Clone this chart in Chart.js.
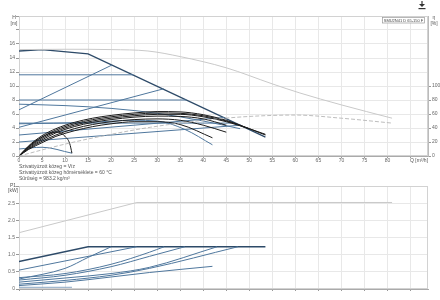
<!DOCTYPE html>
<html><head><meta charset="utf-8">
<script src="https://cdn.jsdelivr.net/npm/chart.js@4/dist/chart.umd.min.js"></script>
<style>
html,body{margin:0;padding:0;background:#fff;width:440px;height:300px;overflow:hidden}
#c1{position:absolute;left:0;top:0}
#c2{position:absolute;left:0;top:182px}
</style></head><body>
<canvas id="c1" width="440" height="182"></canvas>
<canvas id="c2" width="440" height="118"></canvas>
<script>
// ---------- Data ----------
const qTicks = [0,5,10,15,20,25,30,35,40,45,50,55,60,65,70,75,80];
const hTicks = [0,2,4,6,8,10,12,14,16];
const etaTicks = [0,20,40,60,80,100];
const pTicks = ['0','0.5','1.0','1.5','2.0','2.5'];

// Top chart: head curves H [m] vs Q [m3/h]
const Q_envelope = [0,10,20,28,35,45,55,61,70,81];
const H_envelope = [15.2,15.25,15.2,15.0,14.2,12.6,10.3,9.0,7.3,5.4];
const Q_eta = [0,10,20,28.5,40,50,60,70,81];
const ETA = [0,17,31,41,51,56.5,58.5,54,47];

const Q_max = [0,5,15,53.5];
const H_max = [15,15.2,14.6,2.7];
const Q_h1 = [0,24.8], H_h1 = [11.6,11.6];
const Q_v1 = [0,20.2], H_v1 = [6.6,13.0];
const Q_h2 = [0,36.3], H_h2 = [8.0,8.0];
const Q_v2 = [0,31.4], H_v2 = [4.1,9.6];
const Q_c1 = [0,10,20,30,40,48], H_c1 = [7.4,7.2,6.8,6.1,5.0,3.9];
const Q_h3 = [0,46], H_h3 = [4.7,4.7];
const Q_v3 = [0,44.5], H_v3 = [3.0,5.5];
const Q_v4 = [0,48.2], H_v4 = [2.0,4.4];
const Q_n1 = [0,15,25,30,36,42], H_n1 = [4.6,4.8,5.1,5.0,3.8,1.6];
const Q_min = [0,5,11.5], H_min = [1.0,1.25,0.4];

// black operating curves
const Q_k = [0,2,5,8,12,16,20,25,30,35,40,45,50,53.5];
const H_k1 = [0,1.4,2.9,3.9,4.8,5.4,5.8,6.15,6.35,6.3,5.9,5.1,3.9,3.0];
const H_k2 = [0,1.3,2.7,3.7,4.6,5.2,5.6,5.95,6.15,6.1,5.75,5.0,3.9,3.1];
const H_k3 = [0,1.2,2.5,3.5,4.4,5.0,5.4,5.75,5.95,5.95,5.6,4.9,3.9];
const H_k4 = [0,1.1,2.3,3.3,4.2,4.8,5.2,5.55,5.7,5.65,5.3,4.4];
const H_k5 = [0,1.0,2.1,3.0,3.9,4.5,4.9,5.2,5.3,5.1,4.4,3.4];
const Q_k6 = [0,2,5,8,12,16,20,25,30,35,42];
const H_k6 = [0,0.9,1.9,2.8,3.6,4.2,4.6,4.9,4.9,4.5,2.6];
const Q_k7 = [0,2,5,7,8.5,10,11,11.5];
const H_k7 = [0,1.3,2.7,3.3,3.4,2.8,1.8,0.4];

// Bottom chart: power P1 [kW] vs Q
const Q_pEnv = [0,25.6,81], P_pEnv = [1.64,2.52,2.52];
const Q_p1 = [0,15,53.5], P_p1 = [0.8,1.23,1.23];
const Q_p2 = [0,25.5], P_p2 = [0.55,1.23];
const Q_p3 = [0,10,15,20], P_p3 = [0.29,0.6,0.92,1.23];
const Q_p4 = [0,10,20,28.3,31.5], P_p4 = [0.33,0.45,0.72,1.07,1.23];
const Q_p5 = [0,10,20,28.3,36], P_p5 = [0.26,0.4,0.65,0.95,1.23];
const Q_p6 = [0,10,20,28.3,43], P_p6 = [0.2,0.32,0.45,0.63,1.23];
const Q_p7 = [0,10,20,28.3,47.5], P_p7 = [0.14,0.25,0.4,0.6,1.23];
const Q_p8 = [0,10,20,28.3,42], P_p8 = [0.1,0.2,0.35,0.48,0.66];
const Q_p9 = [0,11.5], P_p9 = [0.05,0.05];

const infoLines = ['Szivattyúzott közeg = Víz','Szivattyúzott közeg hőmérséklete = 60 °C','Sűrűség = 983.2 kg/m³'];
const typeLabel = 'SMU2N41 D 65-150 F';

// ---------- Helpers ----------
const pts = (q,v) => v.map((y,i)=>({x:q[i],y:y}));
const FONT = 'Arial, "Liberation Sans", sans-serif';
const DARK = '#2d4a68', MID = '#4f779d', BLK = '#1b1b1b', GRAY = '#c9c9c9', GRID = '#e8e8e8';
function ds(q,v,color,w,extra){return Object.assign({data:pts(q,v),borderColor:color,borderWidth:w,pointRadius:0,fill:false,tension:0},extra||{});}
const curve = {cubicInterpolationMode:'monotone'};

const headSets = [
  ds(Q_envelope,H_envelope,GRAY,1,curve),
  ds(Q_eta,ETA,'#b5b5b5',0.9,Object.assign({yAxisID:'eta',borderDash:[4,2]},curve)),
  ds(Q_k,H_k1,BLK,1,curve),
  ds(Q_k,H_k2,BLK,1,curve),
  ds(Q_k,H_k3,BLK,1,curve),
  ds(Q_k,H_k4,BLK,1,curve),
  ds(Q_k,H_k5,BLK,1,curve),
  ds(Q_k6,H_k6,BLK,1,curve),
  ds(Q_k7,H_k7,BLK,1,curve),
  ds(Q_h1,H_h1,MID,1), ds(Q_v1,H_v1,MID,1), ds(Q_h2,H_h2,MID,1), ds(Q_v2,H_v2,MID,1),
  ds(Q_c1,H_c1,MID,1,curve), ds(Q_h3,H_h3,MID,1), ds(Q_v3,H_v3,MID,1), ds(Q_v4,H_v4,MID,1),
  ds(Q_n1,H_n1,MID,1,curve), ds(Q_min,H_min,MID,1,curve),
  ds(Q_max,H_max,DARK,1.3)
];
const powerSets = [
  ds(Q_pEnv,P_pEnv,GRAY,1),
  ds(Q_p2,P_p2,MID,1), ds(Q_p3,P_p3,MID,1,curve), ds(Q_p4,P_p4,MID,1,curve),
  ds(Q_p5,P_p5,MID,1,curve), ds(Q_p6,P_p6,MID,1,curve), ds(Q_p7,P_p7,MID,1,curve),
  ds(Q_p8,P_p8,MID,1,curve), ds(Q_p9,P_p9,'#8aa6c2',1),
  ds(Q_p1,P_p1,DARK,1.3)
];

const QMAX = 88.8;
const fnt = {size:5,family:FONT};
function xScale(h, showLabels){
  return {type:'linear',min:0,max:QMAX,
    afterBuildTicks:s=>{s.ticks=qTicks.concat([85]).map(v=>({value:v}));},
    afterFit:s=>{s.height=h;},
    ticks:{display:showLabels,autoSkip:false,maxRotation:0,padding:0,color:'#666',font:fnt,
      callback:v=>qTicks.includes(v)?String(v):''},
    grid:{color:GRID,tickLength:2,tickColor:'#999'},border:{color:'#aaa'}};
}

const frame = {id:'frame',beforeDatasetsDraw(c){const a=c.chartArea,x=c.ctx;x.save();x.strokeStyle='#d2d2d2';x.lineWidth=1;
  x.strokeRect(Math.round(a.left)+0.5,Math.round(a.top)+0.5,Math.round(a.right-a.left)-1,Math.round(a.bottom-a.top)-1);x.restore();}};

const topDeco = {id:'topDeco',afterDraw(c){const x=c.ctx;x.save();
  x.fillStyle='#555';x.font='5px '+FONT;x.textAlign='center';x.textBaseline='middle';
  x.fillText('H',14,17.5);x.fillText('[m]',14,23.5);
  x.fillText('η',434,17.5);x.fillText('[%]',434,23.5);
  x.fillText('Q [m³/h]',419,160.5);
  x.textAlign='left';
  infoLines.forEach((t,i)=>x.fillText(t,19,167+i*5.6));
  x.fillStyle='#fff';x.fillRect(382,17,43,6);x.strokeStyle='#999';x.lineWidth=0.7;x.strokeRect(382.5,17.5,42,5.5);
  x.fillStyle='#444';x.font='4px '+FONT;x.textAlign='center';x.fillText(typeLabel,403.5,20.4);
  x.strokeStyle='#333';x.fillStyle='#333';x.lineWidth=1.2;
  x.beginPath();x.moveTo(422,1);x.lineTo(422,5);x.stroke();
  x.beginPath();x.moveTo(419,4);x.lineTo(425,4);x.lineTo(422,7);x.closePath();x.fill();
  x.fillRect(418.5,8,7,1.2);
  x.restore();}};

const botDeco = {id:'botDeco',afterDraw(c){const x=c.ctx;x.save();
  x.fillStyle='#555';x.font='5px '+FONT;x.textAlign='center';x.textBaseline='middle';
  x.fillText('P1',13,3.5);x.fillText('[kW]',13,8.5);x.restore();}};

new Chart(document.getElementById('c1'),{type:'line',data:{datasets:headSets},
  options:{responsive:false,animation:false,devicePixelRatio:1,
    layout:{padding:{top:16,left:0,right:0,bottom:0}},
    plugins:{legend:{display:false},tooltip:{enabled:false}},
    scales:{
      x:xScale(26,true),
      y:{type:'linear',min:0,max:20,afterFit:s=>{s.width=19;},
        afterBuildTicks:s=>{s.ticks=[0,2,4,6,8,10,12,14,16,18,20].map(v=>({value:v}));},
        ticks:{padding:1,color:'#666',font:fnt,callback:v=>hTicks.includes(v)?String(v):''},
        grid:{color:GRID,tickLength:3,tickColor:'#999'},border:{color:'#aaa'}},
      eta:{type:'linear',position:'right',min:0,max:200,afterFit:s=>{s.width=12;},
        afterBuildTicks:s=>{s.ticks=etaTicks.map(v=>({value:v}));},
        ticks:{padding:1,color:'#666',font:fnt,callback:v=>String(v)},
        grid:{drawOnChartArea:false,tickLength:3,tickColor:'#999'},border:{color:'#bbb'}}
    }},
  plugins:[frame,topDeco]});

new Chart(document.getElementById('c2'),{type:'line',data:{datasets:powerSets},
  options:{responsive:false,animation:false,devicePixelRatio:1,
    layout:{padding:{top:2,left:0,right:12,bottom:0}},
    plugins:{legend:{display:false},tooltip:{enabled:false}},
    scales:{
      x:xScale(11,false),
      y:{type:'linear',min:0,max:3,afterFit:s=>{s.width=19;},
        afterBuildTicks:s=>{s.ticks=[0,0.5,1,1.5,2,2.5,3].map(v=>({value:v}));},
        ticks:{padding:1,color:'#666',font:fnt,callback:(v,i)=>pTicks[i]!==undefined?pTicks[i]:''},
        grid:{color:GRID,tickLength:3,tickColor:'#999'},border:{color:'#aaa'}}
    }},
  plugins:[frame,botDeco]});
</script>
</body></html>
